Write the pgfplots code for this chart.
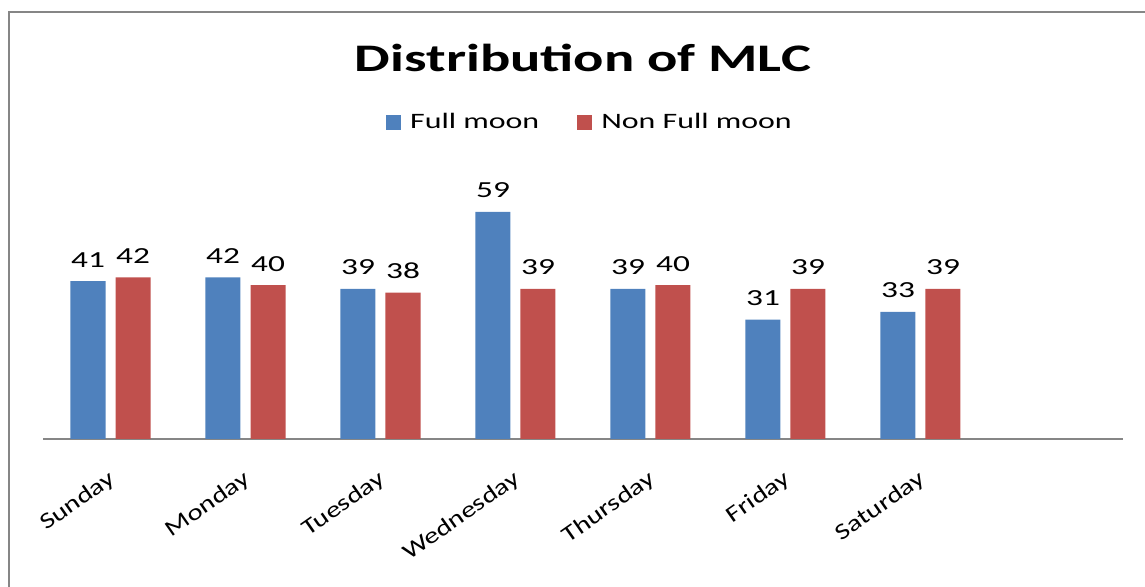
\documentclass[border=0pt]{standalone}
\usepackage{fontspec}
\setmainfont[FakeStretch=1.45]{Carlito}
\newfontfamily\tickfont[FakeStretch=1.28]{Carlito}
\usepackage{pgfplots}
\pgfplotsset{compat=1.18}
\definecolor{fullblue}{RGB}{79,129,189}
\definecolor{nonred}{RGB}{192,80,77}
\definecolor{framegray}{RGB}{134,134,134}
\begin{document}
\begin{tikzpicture}[x=1pt,y=1pt]
\useasboundingbox (0,0) rectangle (572.5,293.5);
\draw[framegray, line width=1pt] (4.5,-2) -- (4.5,287.5) -- (575,287.5);
\begin{axis}[
  at={(21.5pt,74pt)}, anchor=south west,
  width=540pt, height=134.75pt, scale only axis,
  xmin=-0.5, xmax=7.5, ymin=0, ymax=70,
  axis x line=bottom, axis y line=none,
  x axis line style={-, draw=framegray, line width=0.75pt},
  xtick={0,...,6},
  xticklabels={Sunday,Monday,Tuesday,Wednesday,Thursday,Friday,Saturday},
  major tick length=0pt,
  xticklabel style={font=\tickfont\fontsize{11.3}{12}\selectfont, xshift=4pt, yshift=-17pt, rotate=35, anchor=east},
  ybar=5pt, bar width=17.5pt,
  /pgf/number format/assume math mode=true,
  nodes near coords,
  every node near coord/.append style={font=\fontsize{11.5}{13}\selectfont, anchor=base, yshift=7pt, text=black},
  title={Distribution of MLC},
  title style={font=\bfseries\fontsize{19.5}{22}\selectfont, at={(0.5,1)}, anchor=base, yshift=43pt},
  legend style={at={(0.5,1)}, anchor=center, xshift=4pt, yshift=23.5pt, draw=none, fill=none,
    legend columns=2, font=\fontsize{11}{13}\selectfont,
    /tikz/every even column/.append style={column sep=17pt}},
]
\addplot[fill=fullblue, draw=none,
  legend image code/.code={\fill[fullblue] (0pt,-3.75pt) rectangle (7.5pt,3.75pt); \path (10pt,0pt);}]
  coordinates {(0,41) (1,42) (2,39) (3,59) (4,39) (5,31) (6,33)};
\addlegendentry{Full moon}
\addplot[fill=nonred, draw=none,
  legend image code/.code={\fill[nonred] (0pt,-3.75pt) rectangle (7.5pt,3.75pt); \path (10pt,0pt);}]
  coordinates {(0,42) (1,40) (2,38) (3,39) (4,40) (5,39) (6,39)};
\addlegendentry{Non Full moon}
\end{axis}
\end{tikzpicture}
\end{document}
